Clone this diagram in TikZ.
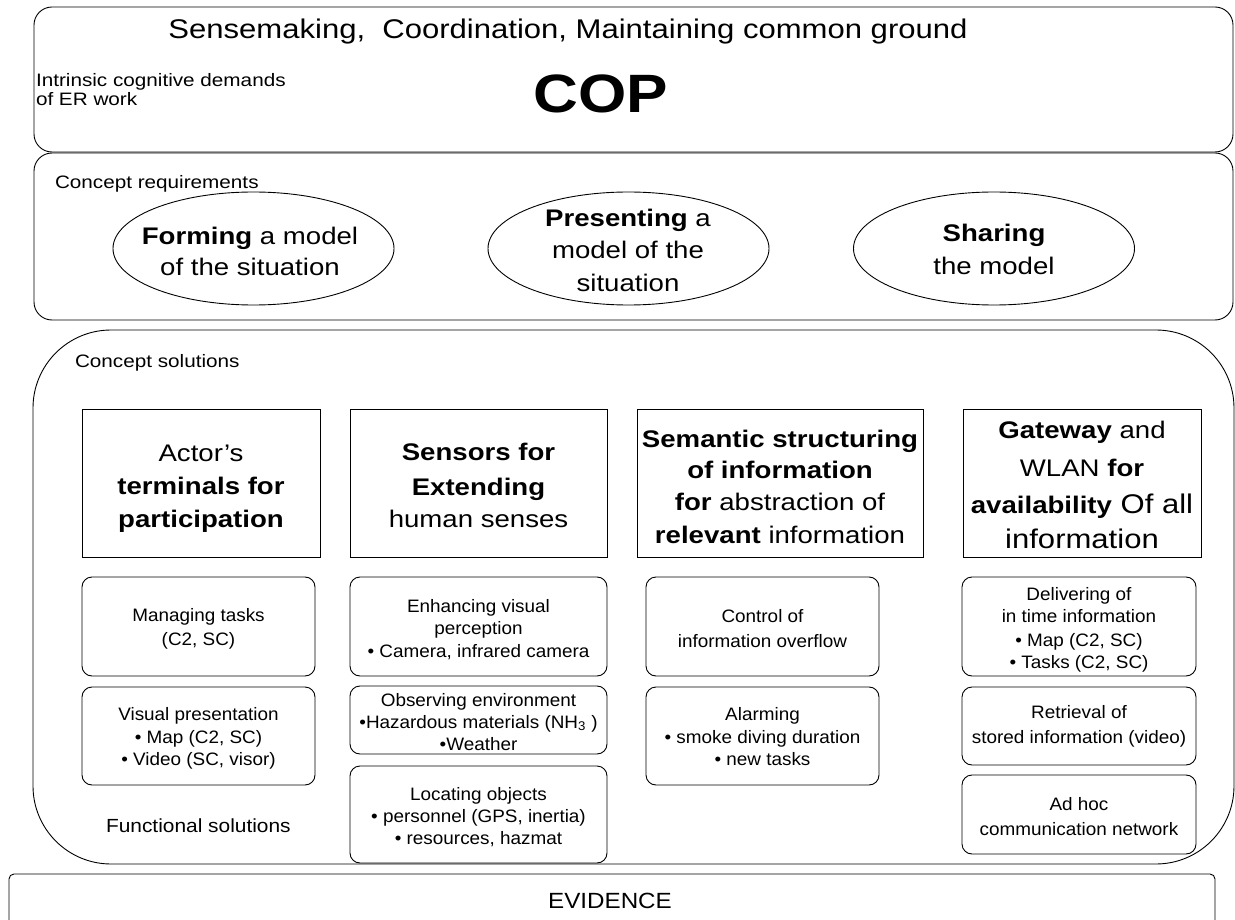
\documentclass[tikz,border=0pt]{standalone}
\usepackage{fontspec}
\setmainfont{Liberation Sans}
\newfontfamily\fsA[FakeStretch=1.15]{Liberation Sans}
\newfontfamily\fsB[FakeStretch=1.15]{Liberation Sans}
\newfontfamily\fsC[FakeStretch=1.1]{Liberation Sans}
\newfontfamily\fsD[FakeStretch=1.05]{Liberation Sans}
\usetikzlibrary{shapes.geometric}
\begin{document}
\begin{tikzpicture}[x=1pt,y=-1pt,line width=0.9pt,
  panel/.style={draw, inner sep=0pt, outer sep=0pt},
  bigbox/.style={draw, inner sep=0pt, outer sep=0pt, minimum height=148pt},
  smallbox/.style={draw, rounded corners=10pt, inner sep=0pt, outer sep=0pt},
  reqell/.style={draw, ellipse, inner sep=0pt, minimum width=281pt, minimum height=113pt},
  txt/.style={inner sep=0pt, outer sep=0pt, anchor=base},
  lbl/.style={inner sep=0pt, outer sep=0pt, anchor=base west, font=\fsA\fontsize{18}{20}\selectfont},
  elltext/.style={txt, font=\fsB\fontsize{24}{30}\selectfont},
  bigtext/.style={txt, font=\fsB\fontsize{24}{30}\selectfont},
  hugetext/.style={txt, font=\fsB\fontsize{27}{32}\selectfont},
  smalltext/.style={txt, font=\fsD\fontsize{18}{22}\selectfont}]
\useasboundingbox (0,0) rectangle (1235,920);

% panels
\node[panel, rounded corners=18pt, minimum width=1199pt, minimum height=145pt] (demands) at (633.5,79.5) {};
\node[panel, rounded corners=18pt, minimum width=1199pt, minimum height=167pt] (reqs) at (633.5,236.5) {};
\node[panel, rounded corners=78pt, minimum width=1201pt, minimum height=534pt] (sols) at (633.5,597) {};
\node[panel, rounded corners=5pt, minimum width=1206pt, minimum height=56pt] (evid) at (612,902) {};

% panel 1
\node[txt, font=\fsA\fontsize{27}{30}\selectfont] (title) at (568,39) {Sensemaking,\ \ Coordination, Maintaining common ground};
\node[txt, font=\fsA\fontsize{54}{60}\selectfont\bfseries] (cop) at (601,113) {COP};
\node[lbl] (intr1) at (36,87) {Intrinsic cognitive demands};
\node[lbl] (intr2) at (36,106) {of ER work};

% panel 2
\node[lbl] (creq) at (55,189) {Concept requirements};
\node[reqell] (form) at (253.5,248.5) {};
\node[reqell] (pres) at (628.5,248.5) {};
\node[reqell] (share) at (994,248.5) {};
\node[elltext] (form1) at (250,245) {\textbf{Forming} a model};
\node[elltext] (form2) at (250,276) {of the situation};
\node[elltext] (pres1) at (628,227) {\textbf{Presenting} a};
\node[elltext] (pres2) at (628,259) {model of the};
\node[elltext] (pres3) at (628,291) {situation};
\node[elltext] (share1) at (994,242) {\textbf{Sharing}};
\node[elltext] (share2) at (994,275) {the model};

% panel 3
\node[lbl] (csol) at (75,367) {Concept solutions};
\node[txt, anchor=base west, font=\fsC\fontsize{19}{22}\selectfont] (func) at (106,832) {Functional solutions};

\node[bigbox, minimum width=238pt] (actor) at (201,483) {};
\node[bigbox, minimum width=257pt] (sens) at (478.5,483) {};
\node[bigbox, minimum width=286pt] (sem) at (780,483) {};
\node[bigbox, minimum width=238pt] (gate) at (1082,483) {};

\node[bigtext] (actor1) at (201,461) {Actor’s};
\node[bigtext] (actor2) at (201,494) {\textbf{terminals for}};
\node[bigtext] (actor3) at (201,527) {\textbf{participation}};

\node[bigtext] (sens1) at (478.5,460) {\textbf{Sensors for}};
\node[bigtext] (sens2) at (478.5,495) {\textbf{Extending}};
\node[bigtext] (sens3) at (478.5,527) {human senses};

\node[bigtext] (sem1) at (780,447) {\textbf{Semantic structuring}};
\node[bigtext] (sem2) at (780,478) {\textbf{of information}};
\node[bigtext] (sem3) at (780,510) {\textbf{for} abstraction of};
\node[bigtext] (sem4) at (780,543) {\textbf{relevant} information};

\node[bigtext] (gate1) at (1082,438) {\textbf{Gateway} and};
\node[bigtext] (gate2) at (1082,476) {WLAN \textbf{for}};
\node[bigtext] (gate3) at (1082,513) {\textbf{availability}{\fontsize{27}{32}\selectfont\ Of all}};
\node[hugetext] (gate4) at (1082,548) {information};

% functional solution boxes
\node[smallbox, minimum width=233pt, minimum height=99pt] (manage) at (198.5,626.5) {};
\node[smallbox, minimum width=233pt, minimum height=98pt] (visual) at (198.5,736) {};
\node[smallbox, minimum width=257pt, minimum height=99pt] (enh) at (478.5,626.5) {};
\node[smallbox, minimum width=257pt, minimum height=68pt] (obs) at (478.5,720) {};
\node[smallbox, minimum width=257pt, minimum height=97pt] (loc) at (478.5,814.5) {};
\node[smallbox, minimum width=233pt, minimum height=99pt] (ctrl) at (762.5,626.5) {};
\node[smallbox, minimum width=233pt, minimum height=98pt] (alarm) at (762.5,736) {};
\node[smallbox, minimum width=234pt, minimum height=99pt] (deliv) at (1079,626.5) {};
\node[smallbox, minimum width=234pt, minimum height=78pt] (retr) at (1079,726) {};
\node[smallbox, minimum width=234pt, minimum height=79pt] (adhoc) at (1079,814.5) {};

\node[smalltext] (manage1) at (198.5,621) {Managing tasks};
\node[smalltext] (manage2) at (198.5,645) {(C2, SC)};
\node[smalltext] (visual1) at (198.5,720) {Visual presentation};
\node[smalltext] (visual2) at (198.5,743) {• Map (C2, SC)};
\node[smalltext] (visual3) at (198.5,765) {• Video (SC, visor)};

\node[smalltext] (enh1) at (478.5,612) {Enhancing visual};
\node[smalltext] (enh2) at (478.5,634) {perception};
\node[smalltext] (enh3) at (478.5,657) {• Camera, infrared camera};
\node[smalltext] (obs1) at (478.5,706) {Observing environment};
\node[smalltext] (obs2) at (478.5,728) {•Hazardous materials (NH\textsubscript{3} )};
\node[smalltext] (obs3) at (478.5,750) {•Weather};
\node[smalltext] (loc1) at (478.5,800) {Locating objects};
\node[smalltext] (loc2) at (478.5,822) {• personnel (GPS, inertia)};
\node[smalltext] (loc3) at (478.5,844) {• resources, hazmat};

\node[smalltext] (ctrl1) at (762.5,622) {Control of};
\node[smalltext] (ctrl2) at (762.5,647) {information overflow};
\node[smalltext] (alarm1) at (762.5,720) {Alarming};
\node[smalltext] (alarm2) at (762.5,743) {• smoke diving duration};
\node[smalltext] (alarm3) at (762.5,765) {• new tasks};

\node[smalltext] (deliv1) at (1079,600) {Delivering of};
\node[smalltext] (deliv2) at (1079,622) {in time information};
\node[smalltext] (deliv3) at (1079,646) {• Map (C2, SC)};
\node[smalltext] (deliv4) at (1079,668) {• Tasks (C2, SC)};
\node[smalltext] (retr1) at (1079,718) {Retrieval of};
\node[smalltext] (retr2) at (1079,743) {stored information (video)};
\node[smalltext] (adhoc1) at (1079,810) {Ad hoc};
\node[smalltext] (adhoc2) at (1079,835) {communication network};

% evidence
\node[txt, font=\fsC\fontsize{22}{26}\selectfont] (evidtext) at (610,908) {EVIDENCE};
\end{tikzpicture}
\end{document}
